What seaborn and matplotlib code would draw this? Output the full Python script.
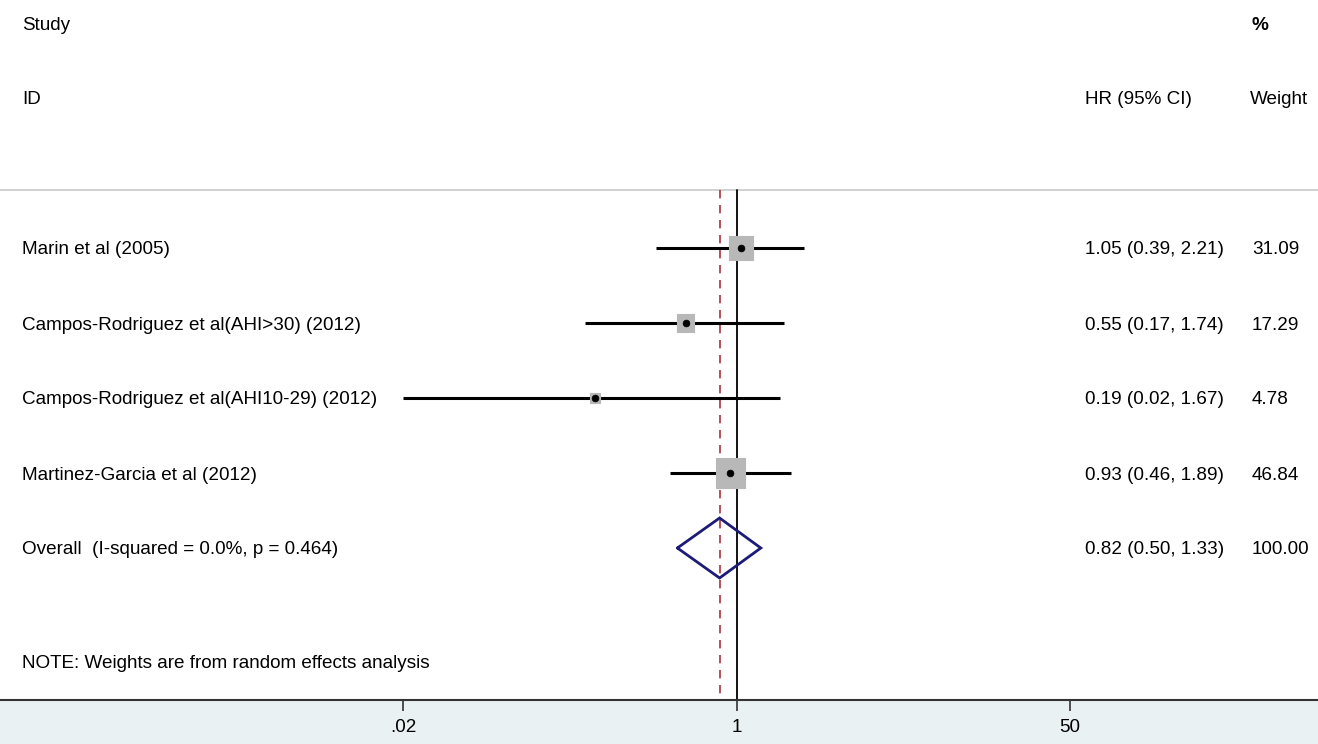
import numpy as np
import pandas as pd
import matplotlib
matplotlib.use("Agg")
import matplotlib.pyplot as plt
import matplotlib.transforms as mtransforms
import seaborn as sns

studies = ["Marin et al (2005)",
           "Campos-Rodriguez et al(AHI>30) (2012)",
           "Campos-Rodriguez et al(AHI10-29) (2012)",
           "Martinez-Garcia et al (2012)"]
hr = [1.05, 0.55, 0.19, 0.93]
lo = [0.39, 0.17, 0.02, 0.46]
hi = [2.21, 1.74, 1.67, 1.89]
weight = [31.09, 17.29, 4.78, 46.84]

overall_label = "Overall  (I-squared = 0.0%, p = 0.464)"
overall = [0.82, 0.50, 1.33]
overall_weight = 100.00
note = "NOTE: Weights are from random effects analysis"
xticks = [0.02, 1, 50]
xticklabels = [".02", "1", "50"]

df = pd.DataFrame({"study": studies, "hr": hr, "lo": lo, "hi": hi, "weight": weight})
df["row"] = np.arange(len(df))
overall_row = len(df)

sns.set_theme(style="white")
plt.rcParams["font.family"] = ["Liberation Sans", "DejaVu Sans"]
plt.rcParams["text.color"] = "black"
plt.rcParams["xtick.color"] = "black"

fig = plt.figure(figsize=(13.18, 7.44), dpi=100)
fig.patch.set_facecolor("#eaf1f3")
ax = fig.add_axes([0, 44 / 744, 1, 700 / 744])
ax.set_facecolor("white")
ax.set_xscale("log")
ax.set_xlim(10 ** (-736.5 / 196.3), 10 ** (581.5 / 196.3))
ax.set_ylim(452 / 75, -248 / 75)

hline_y = -58 / 75
# header separator
ax.axhline(hline_y, color="#c8c8c8", lw=1.2, zorder=1)
# null line and overall line
ax.plot([1, 1], [hline_y, 452 / 75], color="black", lw=1.3, zorder=2)
ax.plot([overall[0], overall[0]], [hline_y, 452 / 75], color="#a8323e",
        lw=1.2, ls=(0, (5, 4)), zorder=2)

# confidence intervals
ax.hlines(df["row"], df["lo"], df["hi"], color="black", lw=2.2, zorder=3)

# weight boxes (area proportional to weight)
box_sizes = {w: (3.1 * np.sqrt(w)) ** 2 for w in df["weight"]}
sns.scatterplot(data=df, x="hr", y="row", size="weight", sizes=box_sizes,
                marker="s", color="#b8b8b8", edgecolor="#b8b8b8", linewidth=0.8,
                legend=False, ax=ax, zorder=4)
sns.scatterplot(data=df, x="hr", y="row", marker="o", s=24, color="black",
                edgecolor="black", linewidth=0.5, legend=False, ax=ax, zorder=5)

# overall diamond
dx = [overall[1], overall[0], overall[2], overall[0], overall[1]]
dy = [overall_row, overall_row - 0.4, overall_row, overall_row + 0.4, overall_row]
ax.plot(dx, dy, color="#1c1c78", lw=2.0, zorder=5, solid_joinstyle="miter")

# text columns
trans = mtransforms.blended_transform_factory(ax.transAxes, ax.transData)
fs = 13.6
va = "center_baseline"
xl, xhr, xw = 22 / 1318, 1085 / 1318, 1252 / 1318
ax.text(xl, -3, "Study", transform=trans, fontsize=fs, va=va)
ax.text(xl, -2, "ID", transform=trans, fontsize=fs, va=va)
ax.text(xw, -3, "%", transform=trans, fontsize=fs, va=va, fontweight="bold")
ax.text(xhr, -2, "HR (95% CI)", transform=trans, fontsize=fs, va=va)
ax.text(xw - 2 / 1318, -2, "Weight", transform=trans, fontsize=fs, va=va)
for _, r in df.iterrows():
    ax.text(xl, r["row"], r["study"], transform=trans, fontsize=fs, va=va)
    ax.text(xhr, r["row"], "{:.2f} ({:.2f}, {:.2f})".format(r["hr"], r["lo"], r["hi"]),
            transform=trans, fontsize=fs, va=va)
    ax.text(xw, r["row"], "{:.2f}".format(r["weight"]), transform=trans,
            fontsize=fs, va=va)
ax.text(xl, overall_row, overall_label, transform=trans, fontsize=fs, va=va)
ax.text(xhr, overall_row, "{:.2f} ({:.2f}, {:.2f})".format(*overall), transform=trans,
        fontsize=fs, va=va)
ax.text(xw, overall_row, "{:.2f}".format(overall_weight), transform=trans,
        fontsize=fs, va=va)
ax.text(xl, 414 / 75, note, transform=trans, fontsize=fs, va=va)

# axis
ax.set_xlabel("")
ax.set_ylabel("")
for side in ["top", "left", "right"]:
    ax.spines[side].set_visible(False)
ax.spines["bottom"].set_color("#333333")
ax.spines["bottom"].set_linewidth(1.5)
ax.set_yticks([])
ax.set_xticks(xticks)
ax.set_xticklabels(xticklabels, fontsize=fs)
ax.xaxis.set_minor_locator(matplotlib.ticker.NullLocator())
ax.tick_params(axis="x", which="major", bottom=True, direction="out", length=8,
               width=1.2, color="#333333", pad=6)

fig.savefig("out.png", dpi=100)
